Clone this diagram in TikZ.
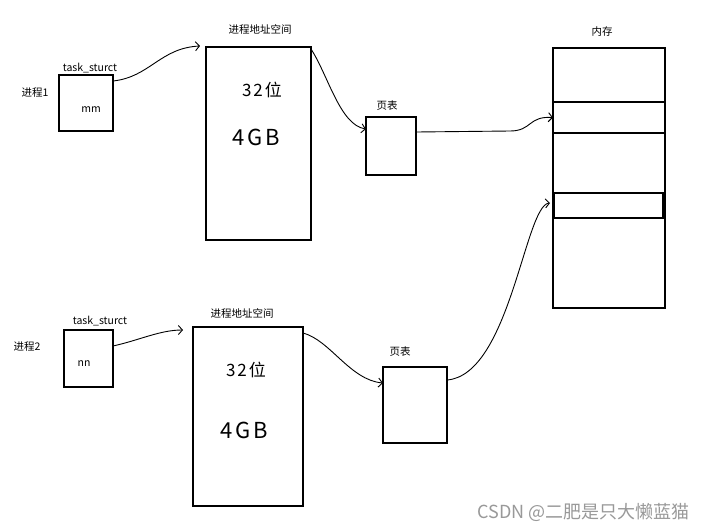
\documentclass[tikz,border=0pt]{standalone}
\usepackage{fontspec}
\setmainfont{Noto Sans CJK SC}
\usetikzlibrary{arrows.meta}

\begin{document}
\begin{tikzpicture}[x=1pt,y=-1pt,
    box/.style={draw,line width=1.7pt,inner sep=0pt,outer sep=0pt,anchor=north west},
    txt/.style={font=\fontsize{10.5}{12}\selectfont,inner sep=1pt},
    hand/.style={font=\fontsize{#1}{#1}\selectfont\addfontfeature{LetterSpace=12},inner sep=0pt},
    link/.style={line width=0.9pt,-{Straight Barb[length=4pt,width=9pt]}}]
\useasboundingbox[fill=white] (0,0) rectangle (706,531);

% process 1
\node[box,minimum width=54pt,minimum height=56pt] (task1) at (59,75) {};
\node[txt] (tasklab1) at (90,68) {task\_sturct};
\node[txt] (mm) at (91,110) {mm};
\node[txt] (proc1) at (35,93) {进程1};
\node[box,minimum width=105pt,minimum height=193pt] (addr1) at (206,47) {};
\node[txt] (addrlab1) at (260,29) {进程地址空间};
\node[hand=17] (bits1) at (262,90) {32位};
\node[hand=22] (size1) at (256,137) {4GB};
\node[box,minimum width=50pt,minimum height=58pt] (pt1) at (366,117) {};
\node[txt] (ptlab1) at (387,106) {页表};

% memory
\node[box,minimum width=112pt,minimum height=260pt] (mem) at (553,48) {};
\node[txt] (memlab) at (602,32) {内存};
\node[box,minimum width=112pt,minimum height=31pt] (row1) at (553,102) {};
\node[box,minimum width=109pt,minimum height=25pt] (row2) at (554,193) {};

% process 2
\node[box,minimum width=49pt,minimum height=57pt] (task2) at (64,330) {};
\node[txt] (tasklab2) at (100,321) {task\_sturct};
\node[txt] (nn) at (84,364) {nn};
\node[txt] (proc2) at (27,347) {进程2};
\node[box,minimum width=110pt,minimum height=179pt] (addr2) at (193,327) {};
\node[txt] (addrlab2) at (242,313) {进程地址空间};
\node[hand=17] (bits2) at (246,370) {32位};
\node[hand=22] (size2) at (244,430) {4GB};
\node[box,minimum width=64pt,minimum height=76pt] (pt2) at (383,367) {};
\node[txt] (ptlab2) at (400,352) {页表};

\draw[link] ([yshift=-6pt]task1.north east) .. controls (150,77) and (160,48) .. ([xshift=-6pt,yshift=1pt]addr1.north west);
\draw[link] ([yshift=-2pt]addr1.north east) .. controls (328,75) and (340,125) .. ([yshift=-12pt]pt1.north west);
\draw[link] ([yshift=-15pt]pt1.north east) -- (510,131) .. controls (532,131) and (528,116) .. (row1.west);
\draw[link] ([yshift=-16pt]task2.north east) .. controls (140,340) and (160,330) .. ([xshift=-10pt,yshift=-3pt]addr2.north west);
\draw[link] ([yshift=-6pt]addr2.north east) .. controls (330,340) and (350,380) .. ([yshift=-16pt]pt2.north west);
\draw[link] ([yshift=-13pt]pt2.north east) .. controls (510,375) and (525,205) .. ([xshift=-4pt,yshift=2.5pt]row2.west);

\node[font=\fontsize{18}{20}\selectfont,text=black!40,inner sep=0pt,anchor=east] (mark) at (690,512) {CSDN @二肥是只大懒蓝猫};
\end{tikzpicture}
\end{document}
